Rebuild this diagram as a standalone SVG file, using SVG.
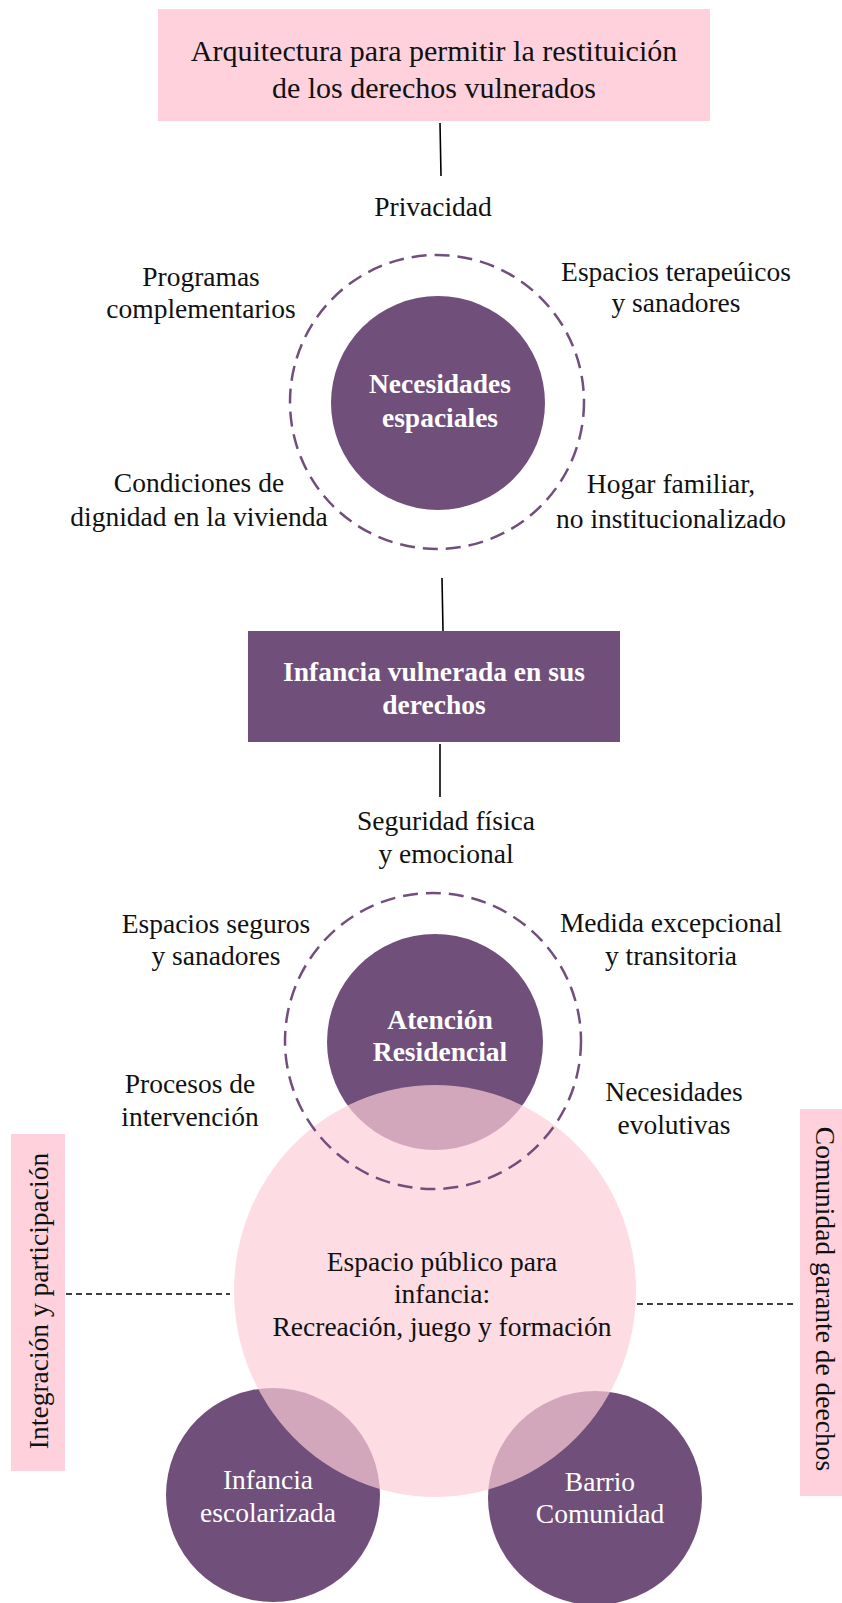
<svg xmlns="http://www.w3.org/2000/svg" width="842" height="1603" viewBox="0 0 842 1603">
<style>
text{font-family:"Liberation Serif","Times New Roman",serif;font-size:27.5px;fill:#111;text-anchor:middle}
.w{fill:#fff}
.b{font-weight:bold}
.t{font-size:30px}
.pink{fill:#FFD1DC}
.pur{fill:#704F7B}
.dash{fill:none;stroke:#704F7B;stroke-width:2.5;stroke-dasharray:15 8}
.con{stroke:#000;stroke-width:1.6;fill:none}
.dl{stroke:#000;stroke-width:1.3;stroke-dasharray:6 4;fill:none}
</style>
<rect width="842" height="1603" fill="#fff"/>
<g id="connectors">
<line class="con" x1="440" y1="123" x2="441" y2="176"/>
<line class="con" x1="442" y1="578" x2="443" y2="631"/>
<line class="con" x1="440" y1="744" x2="440" y2="797"/>
<line class="dl" x1="66" y1="1294" x2="230" y2="1294"/>
<line class="dl" x1="637" y1="1304" x2="797" y2="1304"/>
</g>
<g id="title">
<rect class="pink" x="158" y="9" width="552" height="112"/>
<text class="t" x="434" y="61">Arquitectura para permitir la restituición</text>
<text class="t" x="434" y="98">de los derechos vulnerados</text>
</g>
<g id="privacidad"><text x="433" y="216">Privacidad</text></g>
<g id="necesidades">
<circle class="dash" cx="437" cy="402" r="147"/>
<circle class="pur" cx="438" cy="403" r="107"/>
<text class="w b" x="440" y="393">Necesidades</text>
<text class="w b" x="440" y="427">espaciales</text>
</g>
<g id="programas"><text x="201" y="286">Programas</text><text x="201" y="318">complementarios</text></g>
<g id="terapeuticos"><text x="676" y="281">Espacios terapeúicos</text><text x="676" y="312">y sanadores</text></g>
<g id="condiciones"><text x="199" y="492">Condiciones de</text><text x="199" y="526">dignidad en la vivienda</text></g>
<g id="hogar"><text x="671" y="493">Hogar familiar,</text><text x="671" y="528">no institucionalizado</text></g>
<g id="infancia">
<rect class="pur" x="248" y="631" width="372" height="111"/>
<text class="w b" x="434" y="681">Infancia vulnerada en sus</text>
<text class="w b" x="434" y="714">derechos</text>
</g>
<g id="seguridad"><text x="446" y="830">Seguridad física</text><text x="446" y="863">y emocional</text></g>
<g id="seguros"><text x="216" y="933">Espacios seguros</text><text x="216" y="965">y sanadores</text></g>
<g id="medida"><text x="671" y="932">Medida excepcional</text><text x="671" y="965">y transitoria</text></g>
<g id="procesos"><text x="190" y="1093">Procesos de</text><text x="190" y="1126">intervención</text></g>
<g id="evolutivas"><text x="674" y="1101">Necesidades</text><text x="674" y="1134">evolutivas</text></g>
<g id="atencion">
<circle class="pur" cx="435" cy="1042" r="108"/>
<text class="w b" x="440" y="1029">Atención</text>
<text class="w b" x="440" y="1061">Residencial</text>
</g>
<g id="escolarizada">
<circle class="pur" cx="273" cy="1495" r="107"/>
</g>
<g id="barrio">
<circle class="pur" cx="595" cy="1498" r="107"/>
</g>
<g id="espacio-publico">
<ellipse cx="435" cy="1291" rx="201" ry="206" fill="#FECDD7" fill-opacity="0.7"/>
<text x="442" y="1271">Espacio público para</text>
<text x="442" y="1303">infancia:</text>
<text x="442" y="1336">Recreación, juego y formación</text>
</g>
<g id="atencion-ring"><circle class="dash" cx="433" cy="1041" r="148"/></g>
<g id="escolarizada-text"><text class="w" x="268" y="1489">Infancia</text><text class="w" x="268" y="1522">escolarizada</text></g>
<g id="barrio-text"><text class="w" x="600" y="1491">Barrio</text><text class="w" x="600" y="1523">Comunidad</text></g>
<g id="integracion">
<rect class="pink" x="11" y="1134" width="54" height="337"/>
<text transform="translate(48,1301) rotate(-90)">Integración y participación</text>
</g>
<g id="comunidad">
<rect class="pink" x="800" y="1109" width="50" height="387"/>
<text transform="translate(816,1299) rotate(90)">Comunidad garante de deechos</text>
</g>
</svg>
